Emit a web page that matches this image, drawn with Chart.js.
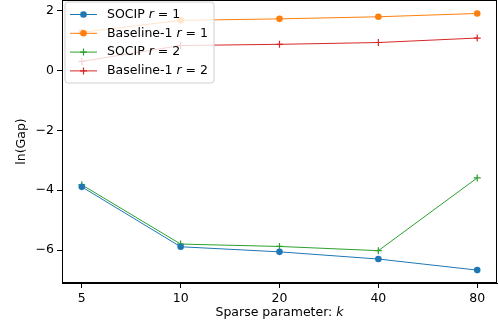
<!DOCTYPE html>
<html>
<head>
<meta charset="utf-8">
<script src="https://cdn.jsdelivr.net/npm/chart.js@4"></script>
<style>
  html, body { margin: 0; padding: 0; background: #fff; }
  #wrap { width: 499px; height: 331px; }
</style>
</head>
<body>
<div id="wrap"><canvas id="myChart" width="499" height="331"></canvas></div>
<script>
const kValues = ['5', '10', '20', '40', '80'];
const yTicks = [-6, -4, -2, 0, 2];
const socipR1 = [-3.89, -5.89, -6.06, -6.30, -6.67];
const baselineR1 = [1.27, 1.67, 1.72, 1.79, 1.90];
const socipR2 = [-3.82, -5.80, -5.88, -6.02, -3.59];
const baselineR2 = [0.30, 0.83, 0.87, 0.93, 1.08];

const FONT = 'DejaVu Sans';
const FS = 12.5;

function toPoints(arr) {
    return arr.map((v, i) => ({x: i, y: v}));
}

// legend rows: [plain text, r value, colour, marker]
const legendRows = [
    ['SOCIP', '1', '#1f77b4', 'circle'],
    ['Baseline-1', '1', '#ff7f0e', 'circle'],
    ['SOCIP', '2', '#2ca02c', 'cross'],
    ['Baseline-1', '2', '#d62728', 'cross']
];

function drawMarker(ctx, style, x, y, color) {
    ctx.save();
    ctx.fillStyle = color;
    ctx.strokeStyle = color;
    if (style === 'circle') {
        ctx.beginPath();
        ctx.arc(x, y, 3.3, 0, Math.PI * 2);
        ctx.fill();
    } else {
        ctx.lineWidth = 1.2;
        ctx.beginPath();
        ctx.moveTo(x - 3.5, y); ctx.lineTo(x + 3.5, y);
        ctx.moveTo(x, y - 3.5); ctx.lineTo(x, y + 3.5);
        ctx.stroke();
    }
    ctx.restore();
}

const extras = {
    id: 'extras',
    afterDatasetsDraw(chart) {
        const ctx = chart.ctx;
        const a = chart.chartArea;
        ctx.save();
        // frame (top / right spines)
        ctx.strokeStyle = '#000';
        ctx.lineWidth = 1;
        ctx.strokeRect(a.left + 0.5, a.top + 0.5, a.right - a.left - 1, a.bottom - a.top - 1);

        // legend box
        const bx = 65, by = 2, bw = 149, bh = 81, r = 3;
        ctx.beginPath();
        ctx.moveTo(bx + r, by);
        ctx.arcTo(bx + bw, by, bx + bw, by + bh, r);
        ctx.arcTo(bx + bw, by + bh, bx, by + bh, r);
        ctx.arcTo(bx, by + bh, bx, by, r);
        ctx.arcTo(bx, by, bx + bw, by, r);
        ctx.closePath();
        ctx.fillStyle = 'rgba(255,255,255,0.8)';
        ctx.fill();
        ctx.strokeStyle = '#d0d0d0';
        ctx.stroke();

        ctx.textBaseline = 'middle';
        legendRows.forEach((row, i) => {
            const y = 14.5 + i * 18.8;
            ctx.strokeStyle = row[2];
            ctx.lineWidth = 1;
            ctx.beginPath();
            ctx.moveTo(70, y); ctx.lineTo(97, y);
            ctx.stroke();
            drawMarker(ctx, row[3], 83.5, y, row[2]);
            ctx.fillStyle = '#000';
            let x = 107;
            ctx.font = FS + 'px "' + FONT + '"';
            ctx.fillText(row[0] + ' ', x, y);
            x += ctx.measureText(row[0] + ' ').width;
            ctx.font = 'italic ' + FS + 'px "' + FONT + '"';
            ctx.fillText('r', x, y);
            x += ctx.measureText('r').width;
            ctx.font = FS + 'px "' + FONT + '"';
            ctx.fillText(' = ' + row[1], x, y);
        });

        // axis labels
        ctx.fillStyle = '#000';
        const p1 = 'Sparse parameter: ';
        ctx.font = FS + 'px "' + FONT + '"';
        const w1 = ctx.measureText(p1).width;
        ctx.font = 'italic ' + FS + 'px "' + FONT + '"';
        const w2 = ctx.measureText('k').width;
        const cx = (a.left + a.right) / 2;
        const sx = cx - (w1 + w2) / 2;
        ctx.font = FS + 'px "' + FONT + '"';
        ctx.fillText(p1, sx, 313);
        ctx.font = 'italic ' + FS + 'px "' + FONT + '"';
        ctx.fillText('k', sx + w1, 313);

        ctx.font = FS + 'px "' + FONT + '"';
        ctx.translate(22, (a.top + a.bottom) / 2);
        ctx.rotate(-Math.PI / 2);
        ctx.textAlign = 'center';
        ctx.fillText('ln(Gap)', 0, 0);
        ctx.restore();
    }
};

const myChart = document.getElementById('myChart').getContext('2d');

let gapGraph = new Chart(myChart, {
    type: 'line',
    data: {
        datasets: [
            {label: 'SOCIP r = 1', data: toPoints(socipR1), borderColor: '#1f77b4', backgroundColor: '#1f77b4', pointStyle: 'circle', pointRadius: 3.3},
            {label: 'Baseline-1 r = 1', data: toPoints(baselineR1), borderColor: '#ff7f0e', backgroundColor: '#ff7f0e', pointStyle: 'circle', pointRadius: 3.3},
            {label: 'SOCIP r = 2', data: toPoints(socipR2), borderColor: '#2ca02c', backgroundColor: '#2ca02c', pointStyle: 'cross', pointRadius: 3.5, pointBorderWidth: 1.2},
            {label: 'Baseline-1 r = 2', data: toPoints(baselineR2), borderColor: '#d62728', backgroundColor: '#d62728', pointStyle: 'cross', pointRadius: 3.5, pointBorderWidth: 1.2}
        ]
    },
    options: {
        responsive: false,
        animation: false,
        elements: {line: {borderWidth: 1, tension: 0}, point: {borderWidth: 0, hoverRadius: 3.3}},
        layout: {autoPadding: false, padding: {top: 0, right: 2, left: 0, bottom: 0}},
        plugins: {legend: {display: false}, tooltip: {enabled: false}},
        scales: {
            x: {
                type: 'linear',
                min: -0.2,
                max: 4.2,
                afterBuildTicks: s => { s.ticks = kValues.map((k, i) => ({value: i})); },
                afterFit: s => { s.height = 48; s.paddingLeft = 0; s.paddingRight = 0; },
                grid: {drawOnChartArea: false, drawTicks: true, tickLength: 5, color: '#000'},
                border: {display: true, color: '#000', width: 1},
                ticks: {
                    color: '#000',
                    padding: 3,
                    maxRotation: 0,
                    font: {family: FONT, size: FS},
                    callback: v => kValues[v]
                }
            },
            y: {
                min: -7.1,
                max: 2.35,
                afterBuildTicks: s => { s.ticks = yTicks.map(v => ({value: v})); },
                afterFit: s => { s.width = 62; s.paddingTop = 0; s.paddingBottom = 0; },
                grid: {drawOnChartArea: false, drawTicks: true, tickLength: 5, color: '#000'},
                border: {display: true, color: '#000', width: 1},
                ticks: {
                    color: '#000',
                    padding: 3,
                    font: {family: FONT, size: FS},
                    callback: v => (v < 0 ? '\u2212' + Math.abs(v) : '' + v)
                }
            }
        }
    },
    plugins: [extras]
});
</script>
</body>
</html>
